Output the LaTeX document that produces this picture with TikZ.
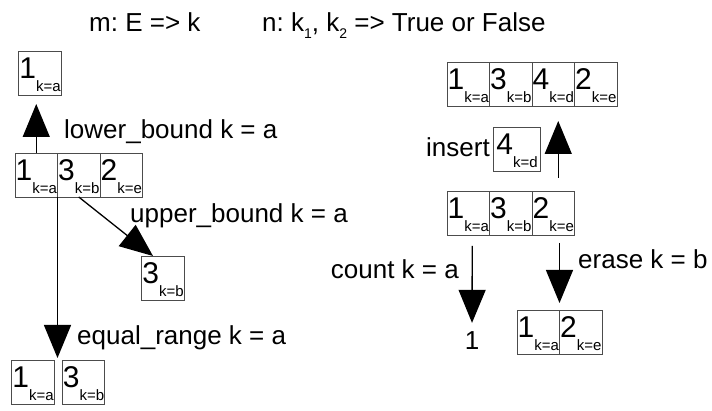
\documentclass[tikz,border=0pt]{standalone}
\usepackage{fontspec}
\setmainfont{Liberation Sans}
\usetikzlibrary{arrows.meta}
\frenchspacing

% prvek s klicem: velka cislice a dolni index k=...
\newcommand\prvek[2]{{\fontsize{30}{30}\selectfont #1}\raisebox{-13pt}{\fontsize{15}{15}\selectfont k=#2}}
\newcommand\dolni[1]{\raisebox{-7pt}{\fontsize{14}{14}\selectfont #1}}

\begin{document}
\begin{tikzpicture}[x=1pt, y=1pt, font=\fontsize{26}{26}\selectfont,
    bunka/.style={draw=black!70, line width=0.8pt, minimum width=42.5pt, minimum height=44pt,
        inner sep=0pt, outer sep=0pt, text height=22pt, text depth=11pt},
    sipka/.style={-{Triangle[length=33pt, width=27pt]}, line width=1.3pt},
    popis/.style={anchor=base west, inner sep=0pt}]

    \useasboundingbox (0,0) rectangle (712,411);

    % 1. Nadpis
    \node[popis] (tm) at (89,379) {m: E => k};
    \node[popis] (tn) at (262,379) {n: k\dolni{1}, k\dolni{2} => True or False};

    % 2. Leva strana (lower_bound, upper_bound, equal_range)
    \foreach \d/\k [count=\i] in {1/a, 3/b, 2/e} {
        \node[bunka] (r\i) at ({15+42.5*(\i-0.5)},236) {\prvek{\d}{\k}};
    }
    \node[bunka] (lb) at (40,338) {\prvek{1}{a}};
    \node[bunka] (ub) at (163,133) {\prvek{3}{b}};
    \node[bunka] (eq1) at (33,29) {\prvek{1}{a}};
    \node[bunka] (eq2) at (83.5,29) {\prvek{3}{b}};

    \draw[sipka, shorten >=9pt] (r1.north) -- (r1.north |- lb.south);
    \draw[sipka] (r2.south) -- ([xshift=-10pt]ub.north);
    \draw[sipka, shorten >=2pt] (r1.south east) -- (r1.south east |- eq1.north);

    \node[popis] (llb) at (64,272) {lower\_bound k = a};
    \node[popis] (lub) at (130,188) {upper\_bound k = a};
    \node[popis] (leq) at (77,66) {equal\_range k = a};

    % 3. Prava strana (insert, count, erase)
    \foreach \d/\k [count=\i] in {1/a, 3/b, 4/d, 2/e} {
        \node[bunka] (t\i) at ({447+42.5*(\i-0.5)},327) {\prvek{\d}{\k}};
    }
    \foreach \d/\k [count=\i] in {1/a, 3/b, 2/e} {
        \node[bunka] (m\i) at ({447+42.5*(\i-0.5)},198) {\prvek{\d}{\k}};
    }
    \foreach \d/\k [count=\i] in {1/a, 2/e} {
        \node[bunka] (e\i) at ({517+42.5*(\i-0.5)},79) {\prvek{\d}{\k}};
    }
    \node[bunka, minimum width=47pt] (ins) at (517,262) {\prvek{4}{d}};
    \node[inner sep=0pt] (one) at (472,70) {1};

    \draw[sipka, shorten <=13pt, shorten >=15pt] ([xshift=5pt]m3.north) -- ([xshift=5pt]t3.south);
    \draw[sipka, shorten <=11pt, shorten >=9pt] ([xshift=4pt]m1.south) -- (one.north);
    \draw[sipka, shorten <=8pt, shorten >=7pt] (e1.north east |- m3.south) -- (e1.north east);

    \node[popis, anchor=base east] (lins) at (490,254) {insert};
    \node[popis, anchor=base east] (lcnt) at (459,132) {count k = a};
    \node[popis] (lers) at (578,142) {erase k = b};

\end{tikzpicture}
\end{document}
